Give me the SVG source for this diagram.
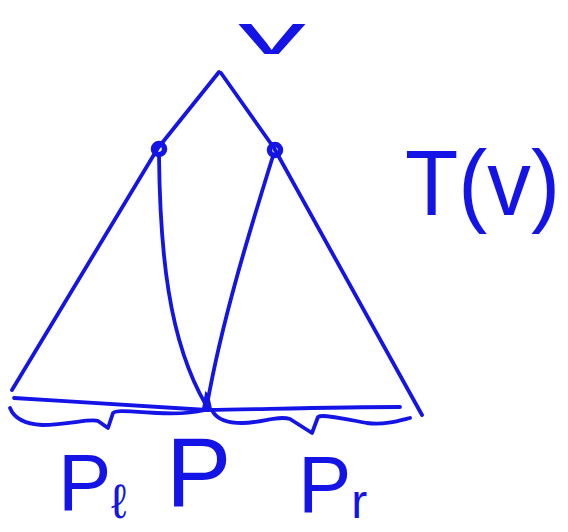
<svg xmlns="http://www.w3.org/2000/svg" width="568" height="532" viewBox="0 0 568 532">
<style>
.s{fill:none;stroke:#1414e6;stroke-width:3.8;stroke-linecap:round;stroke-linejoin:round}
.t{fill:#1414e6;font-family:"Liberation Sans","DejaVu Sans",sans-serif}
.n{fill:none;stroke:#1414e6;stroke-width:5.5}
</style>
<rect width="568" height="532" fill="#ffffff"/>
<g id="connectors">
<path class="s" d="M219,72 L158,148 L12,390"/>
<path class="s" d="M221,73 L274,148 L422,415"/>
<path class="s" d="M159,155 C160,250 168,340 206,405"/>
<path class="s" d="M273,156 C250,230 222,320 207,405"/>
<path class="s" d="M14,398 C80,402 150,406 207,410 C270,409 340,407 400,407"/>
<path class="s" d="M10,408 C14,418 24,424 42,425 C70,425 90,418 98,421 L108,428 L113,413 C116,410 125,411 157,413 C175,414 193,413 205,410"/>
<path class="s" d="M213,412 C218,420 228,423 242,423 C262,423 278,415 290,419 L312,433 L318,417 C322,414 340,418 367,423 C385,425 398,421 410,418"/>
</g>
<g id="node-left"><circle class="n" cx="159" cy="149" r="5.5"/></g>
<g id="node-right"><circle class="n" cx="275" cy="150" r="5.5"/></g>
<g id="node-bottom"><path d="M203,409 L206,393 L208,395 L211,409 Z" fill="#1414e6" stroke="#1414e6" stroke-width="2"/></g>
<g id="label-v"><text class="t" x="238" y="54" font-size="58" textLength="68" lengthAdjust="spacingAndGlyphs">v</text></g>
<g id="label-T"><text class="t" x="405" y="215" font-size="92" textLength="155" lengthAdjust="spacingAndGlyphs">T(v)</text></g>
<g id="label-Pl"><text class="t" x="58" y="510" font-size="80">P<tspan font-size="48" dy="8">ℓ</tspan></text></g>
<g id="label-P"><text class="t" x="166" y="506" font-size="98">P</text></g>
<g id="label-Pr"><text class="t" x="298" y="512" font-size="80">P<tspan font-size="48" dy="6">r</tspan></text></g>
</svg>
